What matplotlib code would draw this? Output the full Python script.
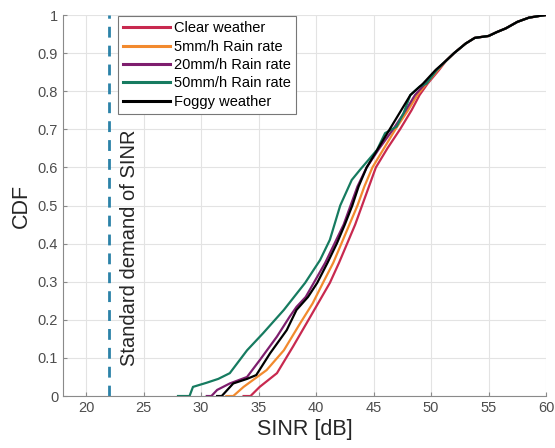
import matplotlib

matplotlib.use("Agg")
import matplotlib.pyplot as plt

plt.rcParams["font.family"] = ["Liberation Sans", "DejaVu Sans"]

# CDF curves (x = SINR [dB], y = CDF)
tail_x = [51.3, 52.0, 53.0, 53.8, 55.0, 55.7, 56.5, 57.5, 58.5, 59.5, 60.0]
tail_y = [0.88, 0.90, 0.925, 0.94, 0.945, 0.955, 0.965, 0.982, 0.993, 0.998, 1.0]

clear_x = [33.7, 34.3, 35.1, 36.6, 38.0, 39.5, 41.2, 42.0, 42.7, 43.4, 44.0, 44.6,
           45.2, 46.2, 47.3, 48.3, 49.0, 49.7, 50.7] + tail_x
clear_y = [0, 0, 0.024, 0.06, 0.13, 0.208, 0.297, 0.35, 0.40, 0.45, 0.50, 0.55,
           0.60, 0.65, 0.70, 0.75, 0.79, 0.82, 0.856] + tail_y

rain5_x = [32.2, 32.8, 33.7, 35.7, 37.2, 38.6, 39.7, 40.6, 41.5, 42.2, 42.9, 43.6,
           44.2, 44.9, 45.9, 46.9, 48.0, 48.8, 49.6, 50.6] + tail_x
rain5_y = [0, 0, 0.024, 0.068, 0.12, 0.19, 0.243, 0.297, 0.35, 0.40, 0.45, 0.50,
           0.55, 0.60, 0.65, 0.70, 0.75, 0.79, 0.82, 0.856] + tail_y

rain20_x = [30.5, 30.9, 31.4, 32.5, 34.0, 35.1, 36.6, 37.7, 38.3, 39.1, 39.8, 40.8,
            41.6, 42.4, 43.0, 43.6, 44.4, 45.5, 46.7, 47.8, 48.6, 49.5, 50.5] + tail_x
rain20_y = [0, 0, 0.016, 0.033, 0.05, 0.094, 0.156, 0.208, 0.234, 0.26, 0.297, 0.35,
            0.40, 0.45, 0.50, 0.55, 0.60, 0.65, 0.70, 0.75, 0.79, 0.82, 0.856] + tail_y

rain50_x = [28.0, 29.0, 29.3, 30.5, 31.5, 32.5, 34.0, 35.4, 37.2, 39.05, 40.35, 41.2,
            42.1, 43.1, 43.8, 45.3, 46.0, 47.0, 47.6, 48.2, 49.0, 49.6, 50.5] + tail_x
rain50_y = [0, 0, 0.024, 0.035, 0.045, 0.06, 0.12, 0.165, 0.226, 0.297, 0.357, 0.41,
            0.50, 0.567, 0.593, 0.646, 0.69, 0.707, 0.742, 0.79, 0.812, 0.82, 0.856] + tail_y

fog_x = [31.4, 31.8, 32.8, 34.0, 34.8, 36.0, 37.45, 38.3, 39.3, 40.1, 41.0, 41.8,
         42.5, 43.15, 43.7, 44.4, 45.4, 46.4, 47.4, 48.2, 49.3, 50.4] + tail_x
fog_y = [0, 0, 0.033, 0.045, 0.055, 0.112, 0.173, 0.226, 0.26, 0.297, 0.35, 0.40,
         0.45, 0.50, 0.55, 0.60, 0.65, 0.70, 0.75, 0.79, 0.82, 0.856] + tail_y

demand_sinr = 22
x_ticks = [20, 25, 30, 35, 40, 45, 50, 55, 60]
y_ticks = [0, 0.1, 0.2, 0.3, 0.4, 0.5, 0.6, 0.7, 0.8, 0.9, 1]
y_ticklabels = ["0", "0.1", "0.2", "0.3", "0.4", "0.5", "0.6", "0.7", "0.8", "0.9", "1"]

series = [
    ("Clear weather", clear_x, clear_y, "#c8294f"),
    ("5mm/h Rain rate", rain5_x, rain5_y, "#f28a2e"),
    ("20mm/h Rain rate", rain20_x, rain20_y, "#7e1e6e"),
    ("50mm/h Rain rate", rain50_x, rain50_y, "#167b60"),
    ("Foggy weather", fog_x, fog_y, "#000000"),
]

fig = plt.figure(figsize=(5.55, 4.48), dpi=100)
ax = fig.add_axes([0.1135, 0.116, 0.8705, 0.8505])

for etiqueta, xs, ys, color in series:
    ax.plot(xs, ys, color=color, linewidth=1.6, label=etiqueta)

ax.axvline(demand_sinr, color="#2b82a8", linestyle=(0, (3.9, 2.9)), linewidth=2.0)
ax.text(demand_sinr + 1.8, 0.39, "Standard demand of SINR", rotation=90,
        ha="center", va="center", fontsize=14.5, color="#262626")

ax.set_xlim(18, 60)
ax.set_ylim(0, 1)
ax.set_xticks(x_ticks)
ax.set_yticks(y_ticks)
ax.set_yticklabels(y_ticklabels)
ax.tick_params(direction="in", length=3, colors="#8a8a8a", labelcolor="#4d4d4d",
               labelsize=10.5)
ax.grid(True, color="#e3e3e3", linewidth=0.8)
ax.set_axisbelow(True)
ax.spines["top"].set_visible(False)
ax.spines["right"].set_visible(False)
ax.spines["left"].set_color("#8a8a8a")
ax.spines["bottom"].set_color("#8a8a8a")
ax.set_xlabel("SINR [dB]", fontsize=15.5, color="#262626", labelpad=3)
ax.set_ylabel("CDF", fontsize=15.5, color="#262626", labelpad=4)

leg = ax.legend(loc="upper left", bbox_to_anchor=(0.114, 0.997), fontsize=10.5,
                handlelength=3.2, handletextpad=0.3, labelspacing=0.3,
                borderaxespad=0, borderpad=0.35, fancybox=False, framealpha=1)
leg.get_frame().set_edgecolor("#777777")
leg.get_frame().set_linewidth(0.8)
for linea in leg.get_lines():
    linea.set_linewidth(2.2)

fig.savefig("out.png", dpi=100, facecolor="white")
